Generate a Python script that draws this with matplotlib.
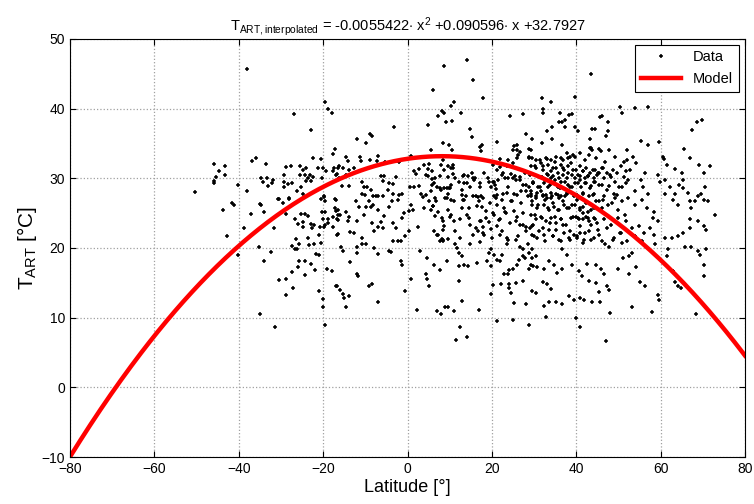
import numpy as np
import matplotlib
matplotlib.use('Agg')
import matplotlib.pyplot as plt

plt.rcParams['font.family'] = ['Liberation Sans', 'DejaVu Sans']
plt.rcParams['mathtext.fontset'] = 'custom'
plt.rcParams['mathtext.rm'] = 'Liberation Sans'
plt.rcParams['mathtext.it'] = 'Liberation Sans'

# model coefficients (from the title)
coef = [-0.0055422, 0.090596, 32.7927]

lat = [
    # south, upper part
    -38.1, -19.6, -18.8, -18.0, -27.0, -22.9, -45.9, -36.8, -36.0, -33.6, -44.8, -43.3, -45.4, -43.3,
    -45.9, -45.8, -40.2, -50.4, -38.0, -34.8, -33.4, -34.3, -33.1, -31.9, -32.1, -30.5, -29.3, -28.8,
    -27.6, -29.3, -29.2, -28.3, -27.4, -26.3, -25.2, -25.4, -24.8, -24.0, -25.4, -24.3, -23.6, -23.2,
    -22.4, -22.8, -24.0, -22.4, -20.6, -21.2, -20.0, -19.3, -17.7, -17.7, -16.5, -16.8, -20.3, -19.7,
    -24.8, -28.0,
    # south, lower part
    -43.7, -41.6, -41.1, -42.9, -37.0, -38.8, -35.0, -34.7, -34.1, -35.3, -40.2, -34.1, -32.3, -31.6,
    -30.6, -29.6, -28.0, -28.7, -30.4, -28.8, -28.8, -27.2, -27.4, -26.0, -25.8, -24.3, -24.4, -23.0,
    -21.9, -27.4, -26.8, -26.2, -25.7, -26.4, -26.0, -24.9, -24.9, -25.3, -24.4, -23.6, -26.7, -23.6,
    -23.4, -22.2, -22.9, -22.1, -22.7, -20.6, -19.8, -19.5, -17.3, -20.2, -19.6, -20.1, -18.8, -18.8,
    -17.7, -17.1, -16.9, -16.4, -16.4, -20.7, -19.8, -19.5, -17.6, -20.9, -16.7, -20.6, -21.8, -20.9,
    -19.1, -17.9, -16.7, -20.9, -20.1, -20.0, -35.0, -31.4, -19.6,
    # tropics, upper part
    8.7, 14.2, 15.5, 6.0, 17.9, 11.1, 10.4, 12.6, 8.1, 8.6, 7.3, 9.2, 10.5, 4.9, -3.3, 14.9, 15.3, 8.3,
    9.8, 5.5, 10.5, 17.1, 17.4, -11.9, -9.9, -8.9, -8.5, -17.2, -14.7, -14.0, -11.2, -11.0, -8.9, -7.1,
    -7.3, -5.4, -2.1, 0.9, 21.1, 24.3, 27.4, 28.0, 25.3, 25.0, 25.9, 26.6, 28.8, 22.0, 23.8, 26.0, 28.8,
    -17.4, -16.2, -15.4, -17.0, -16.2, -14.6, -13.8, -12.8, -15.5, -13.8, -10.7, -10.4, -9.5, -10.9,
    -10.0, -8.7, -8.2, -7.1, -6.3, -5.5, -5.8, -4.5, -3.5, -4.6, -3.5, -2.7, -2.0, -1.2, 1.6, 2.8, 2.0,
    0.6, 1.6, 2.8, 3.8, 5.1, 4.9, 5.7, 4.4, 4.9, 5.9, 6.3, 3.3, 4.4, 5.5, 7.9, 9.5, 10.7, 8.7, 7.8, 9.5,
    10.7, 11.2, 7.0, 7.9, 8.7, 9.9, 10.3, 9.5, 12.2, 13.4, 14.4, 13.4, 12.8, 13.8, 14.8, 15.5, 15.8,
    16.2, 17.2, 17.5, 18.2, 19.0, 19.4, 19.8, 20.6, 21.0, 20.6, 20.2, 21.1, 21.9, 22.6, 23.0, 23.8,
    22.6, 24.6, 25.1, 25.7, 26.7, 27.3, 26.9, 28.1, 28.9, 29.2, 29.7, 25.3, 28.5,
    # tropics, lower part
    -17.0, -16.4, -16.7, -15.9, -16.4, -14.6, -13.8, -14.2, -13.6, -12.6, -12.2, -11.6, -11.9, -10.9,
    -10.3, -9.9, -9.1, -8.7, -8.1, -7.5, -7.0, -8.5, -7.9, -7.0, -5.7, -6.3, -5.5, -5.7, -4.3, -3.6,
    -2.2, -3.4, -2.7, -1.2, -0.8, 0.4, 0.9, 1.4, -0.6, 0.4, 2.4, -3.4, -2.2, -1.6, 3.6, 4.0, 5.0, 5.5,
    6.0, 6.5, 6.7, 6.2, 7.3, 8.1, 7.8, 9.3, 10.3, 11.1, 9.5, 10.3, 10.9, 8.3, 8.7, 9.5, 12.5, 13.3,
    13.0, 14.6, 14.6, 12.5, 14.8, 16.6, 16.9, 17.7, 16.2, 16.8, 17.4, 17.8, 18.6, 18.2, 19.2, 19.9,
    20.6, 21.0, 21.3, 21.7, 21.3, 22.9, 23.3, 22.5, 23.7, 24.5, 25.3, 25.7, 26.7, 27.3, 28.1, 29.1,
    29.6, 23.7, 25.7, 26.7, 27.3, 28.5, 29.6, 27.3, 27.8, 29.6,
    -15.7, -15.2, -12.0, -10.9, -9.9, -11.9, -7.9, -7.1, -4.3, -3.9, -13.6, -1.6, -1.2, 3.0, 4.6, 6.3,
    7.8, 9.3, 11.2, 11.7, 12.3, 13.0, 12.2, 13.4, 14.4, 16.5, 18.9, 19.4, 19.8, 19.8, 20.6, 21.3, 22.0,
    22.5, 22.9, 24.1, 23.9, 25.1, 26.0, 26.5, 28.9, 29.7, -12.0, -11.7, -9.1, -8.5, -17.0, -15.9,
    -15.2, -13.8, -15.1, -14.6, -7.0, -0.6, 0.8, 2.2, 4.3, 4.7, 5.0, 6.9, 7.9, 8.8, 9.5, 10.9, 12.8,
    12.2, 17.0, 19.8, 20.2, 22.1, 24.1, 24.1, 25.7, 24.5, 25.3, 28.1, 27.3, 21.3, 25.0, 12.5, 11.6, 14.0,
    # north, upper part
    43.4, 31.9, 33.9, 32.1, 32.2, 39.6, 36.2, 38.4, 39.0, 37.4, 36.6, 35.9, 37.3, 34.3, 33.1, 39.6,
    40.4, 46.0, 45.7, 43.7, 44.5, 47.6, 47.6, 47.1, 50.4, 50.8, 54.0, 56.9, 55.4, 59.6, 67.4, 68.7,
    69.9, 29.6, 29.3, 31.9, 34.3, 36.6, 43.3, 43.3, 43.7, 45.4, 49.2, 52.1, 52.0, 53.5, 54.2, 57.0,
    60.5, 60.8, 65.6, 67.0, 69.2, 71.8, 61.5, 63.5, 65.0, 65.4, 64.3, 65.4, 70.2, 70.5, 68.8, 59.4,
    59.8, 61.0, 62.2, 61.0, 63.3, 66.5, 52.7, 56.2, 55.4, 55.8, 53.9, 57.0, 50.5, 49.7, 51.3, 51.7,
    50.2, 49.0, 47.4, 48.2, 46.6, 45.5, 47.8, 46.6,
    28.8, 30.4, 31.6, 32.8, 33.9, 35.1, 36.3, 37.8, 38.6, 39.8, 29.3, 30.4, 32.0, 33.2, 34.0, 35.2,
    36.4, 37.2, 38.0, 38.8, 39.9, 40.8, 41.6, 42.4, 43.2, 44.4, 45.5, 46.3, 29.1, 31.9, 33.1, 33.9,
    34.6, 35.8, 36.9, 37.8, 38.9, 39.8, 40.9, 42.1, 42.9, 44.1, 44.9, 29.7, 30.9, 32.4, 33.2, 34.4,
    35.6, 36.4, 38.0, 39.1, 40.3, 41.1, 42.3, 43.5, 44.3, 29.3, 30.5, 31.7, 32.8, 34.0, 35.2, 36.3,
    37.9, 39.5, 41.5, 43.0, 44.2,
    # north, lower part
    29.2, 30.4, 32.0, 33.1, 34.3, 35.8, 37.4, 29.6, 30.8, 32.3, 33.5, 34.7, 35.8, 37.0, 38.2, 39.8,
    41.0, 41.7, 42.9, 44.1, 45.3, 46.4, 47.6, 49.2, 50.8, 52.3, 53.9, 55.5, 56.7, 58.5, 58.1, 59.3,
    29.2, 30.4, 31.6, 32.8, 34.0, 35.1, 36.3, 37.5, 38.7, 39.9, 40.7, 41.5, 42.3, 43.1, 44.3, 45.0,
    46.6, 48.2, 49.8, 51.7, 53.3, 54.9, 56.1, 57.6, 58.4, 29.6, 31.2, 30.0, 32.4, 33.6, 34.4, 35.9,
    37.1, 38.3, 39.5, 40.2, 41.0, 41.8, 43.0, 44.2, 45.4, 46.9, 47.7, 48.9, 50.5, 52.0, 54.0, 55.6,
    58.6, 61.0, 62.6, 64.2, 65.4, 66.9, 66.9, 67.3, 68.1, 70.4, 71.2, 69.6, 63.0, 64.2, 66.9, 68.9,
    70.4, 70.8, 72.8, 65.8, 67.3, 68.9, 69.3, 70.8, 70.4, 70.4,
    28.8, 29.2, 30.4, 30.8, 32.4, 33.6, 34.7, 35.5, 36.7, 36.7, 37.9, 39.1, 40.6, 41.4, 42.6, 44.6,
    45.8, 46.6, 43.0, 44.6, 47.4, 47.7, 45.4, 49.8, 51.0, 52.5, 53.3, 52.5, 54.1, 55.2, 56.4, 61.8,
    61.4, 63.0, 63.3, 64.2, 64.9, 29.6, 30.4, 32.0, 33.1, 34.0, 32.4, 33.5, 35.1, 36.7, 38.2, 39.4,
    41.0, 41.8, 43.8, 45.7, 48.0, 53.3, 58.0, 59.4, 59.6, 68.5, 32.8, 40.0, 41.0, 47.0, 28.8,
    # dense cluster, mid-latitudes north
    43.5, 45.8, 47.8, 31.4, 33.0, 34.9, 36.9, 38.1, 39.3, 40.9, 42.1, 43.1, 44.8, 46.8, 51.4, 51.9,
    48.8, 48.0, 46.0, 45.2, 44.0, 42.8, 41.6, 40.5, 39.3, 38.1, 36.9, 35.7, 34.5, 33.3, 32.2, 30.2,
    29.4, 29.8, 31.4, 32.6, 33.7, 34.9, 36.1, 37.3, 38.5, 39.7, 40.9, 42.1, 43.2, 44.4, 46.0, 47.2,
    49.2, 50.8, 52.3, 30.6, 32.2, 34.1, 35.7, 37.7, 40.1, 41.6, 44.0, 49.6, 29.4, 31.0, 32.6, 33.3,
    34.5, 35.7, 36.9, 37.7, 38.9, 40.1, 40.9, 41.6, 42.4, 43.6, 44.8, 46.0, 48.4, 50.0, 51.5, 30.2,
    31.8, 34.9, 36.5, 39.3, 40.5, 42.8, 44.4, 29.8, 32.2, 33.7, 35.3, 36.9, 38.5, 40.9, 42.1, 43.6,
    45.2, 47.2, 50.4, 30.6, 32.6, 34.5, 36.5, 38.5, 40.1, 41.6, 43.6, 46.0, 48.8, 50.8,
    # dense cluster, tropics
    8.5, 10.8, 10.4, 5.7, 6.5, 7.7, 9.3, 10.0, 8.9, 6.5, 6.1, 7.3, 8.1, 10.0, 8.5, 6.9, 8.5, 11.2,
    13.2, 15.2, 16.0, 17.2, 14.0, 20.3, 20.7, 21.5, 22.3, 23.9, 25.5, 26.6, 27.8, 23.5, 25.1, 26.2,
    17.6, 25.9, 12.8, 13.2, 15.6, 16.4, 18.0, 19.5, 21.1, 22.3, 23.5, 24.7, 25.9, 27.0, 28.2, 14.0,
    14.8, 17.2, 18.7, 20.3, 21.9, 23.1, 24.3, 25.9, 27.4, 15.6, 18.0, 20.0, 21.9, 23.9, 26.2, 28.2,
    8.5, 17.2,
]

temp = [
    # south, upper part
    45.6, 40.9, 40.0, 39.4, 39.2, 36.9, 32.0, 32.5, 32.9, 32.0, 31.1, 31.7, 30.2, 30.4,
    29.6, 29.3, 29.0, 28.0, 28.2, 30.1, 30.1, 29.5, 28.9, 29.7, 29.3, 27.0, 30.5, 31.6,
    31.7, 29.4, 28.7, 29.2, 29.3, 28.2, 28.7, 31.8, 31.2, 31.4, 30.5, 30.5, 30.0, 30.5,
    30.2, 29.6, 29.6, 32.9, 32.8, 31.4, 31.4, 31.1, 33.5, 31.1, 31.4, 30.6, 30.0, 27.4,
    27.8, 27.0,
    # south, lower part
    25.5, 26.5, 26.2, 21.7, 24.9, 22.8, 26.3, 26.1, 25.1, 20.1, 19.0, 18.2, 19.4, 22.8,
    27.0, 26.5, 27.1, 24.9, 15.4, 15.5, 13.2, 14.2, 16.6, 17.2, 18.2, 18.1, 16.1, 17.7,
    16.8, 20.3, 19.8, 19.9, 20.5, 21.3, 23.5, 23.7, 23.0, 24.9, 24.9, 24.6, 24.1, 21.4,
    20.4, 20.5, 23.4, 23.3, 22.8, 27.0, 27.3, 26.8, 27.0, 25.2, 25.1, 24.2, 24.2, 23.6,
    24.4, 25.8, 25.3, 24.7, 24.0, 23.0, 23.0, 23.3, 23.0, 21.9, 21.9, 20.7, 19.1, 19.0,
    17.0, 16.7, 14.5, 13.8, 12.7, 11.5, 10.6, 8.7, 8.9,
    # tropics, upper part
    46.1, 47.0, 44.1, 42.6, 41.5, 40.9, 40.4, 39.3, 39.6, 39.4, 38.9, 38.1, 38.2, 37.6, 37.4, 37.1, 35.9, 35.1,
    34.8, 34.0, 34.0, 34.5, 33.9, 35.6, 35.1, 36.3, 36.0, 34.2, 33.1, 32.5, 33.1, 32.5, 32.6, 33.2,
    32.5, 32.4, 32.3, 33.2, 35.2, 38.9, 39.2, 36.3, 34.6, 34.1, 34.1, 33.8, 34.2, 32.8, 32.6, 32.9, 32.9,
    31.4, 31.7, 31.4, 30.5, 30.1, 30.5, 31.2, 31.4, 28.9, 28.9, 29.5, 28.8, 28.8, 27.8,
    27.6, 28.3, 27.5, 27.4, 30.3, 30.3, 29.6, 29.3, 29.2, 28.3, 27.8, 30.2, 27.6, 27.7, 31.1, 31.3, 30.6,
    28.8, 28.8, 28.9, 31.9, 32.0, 31.3, 31.1, 30.5, 30.3, 29.9, 29.3, 27.7, 27.6, 28.2, 31.9, 31.7, 31.4, 31.2, 30.3, 30.2,
    30.6, 30.1, 28.8, 28.3, 28.6, 28.6, 29.0, 27.8, 29.4, 30.5, 30.3, 29.3, 28.3, 27.4, 28.8, 30.1, 29.7,
    27.4, 28.8, 27.5, 30.7, 30.1, 29.5, 28.8, 29.4, 28.4, 27.4, 31.9, 31.2, 31.6, 30.8, 30.0, 28.8,
    27.8, 30.6, 30.1, 29.8, 30.2, 29.0, 28.1, 29.0, 28.8, 28.1, 29.3, 27.8, 27.4,
    # tropics, lower part
    26.9, 25.5, 24.1, 24.7, 22.0, 25.2, 24.5, 23.8, 22.3, 22.1, 26.7, 25.9, 23.9, 21.4,
    24.8, 25.9, 26.7, 25.9, 26.1, 27.4, 25.5, 23.6, 22.4, 23.0, 22.8, 23.7, 24.6, 27.4, 25.9, 26.7,
    26.9, 23.6, 22.8, 24.3, 25.0, 25.3, 26.2, 25.5, 21.7, 22.5, 23.0, 21.0, 21.0, 21.0, 27.3, 25.7, 26.7, 25.4,
    26.0, 24.6, 26.8, 22.4, 21.8, 21.3, 21.0, 27.2, 26.9, 26.7, 25.5, 24.8, 23.9, 23.8, 23.1, 21.3, 24.2, 26.9,
    25.7, 24.3, 25.7, 21.5, 20.6, 27.3, 26.7, 25.9, 22.9, 22.5, 23.9, 23.0, 25.3, 21.9, 23.7, 22.7,
    24.7, 27.2, 26.2, 24.0, 23.2, 25.7, 25.0, 22.4, 21.5, 26.7, 25.3, 23.8, 23.3, 25.0, 23.0, 22.9,
    21.9, 20.5, 21.2, 20.1, 19.8, 20.5, 19.8, 18.8, 18.6, 18.6,
    20.2, 19.5, 20.1, 20.5, 20.6, 19.3, 20.0, 19.1, 19.6, 19.4, 18.0, 18.1, 17.6, 19.5, 18.6, 17.5,
    16.9, 18.2, 20.6, 20.0, 19.3, 18.9, 17.4, 17.5, 17.4, 17.8, 18.1, 19.3, 19.8, 17.4, 19.0, 18.3, 18.1,
    19.0, 16.3, 16.8, 16.3, 17.0, 17.6, 18.3, 17.0, 17.4, 16.3, 16.0, 14.6, 14.8, 14.5, 13.9,
    13.4, 13.1, 12.8, 11.5, 12.2, 13.8, 15.5, 11.1, 16.2, 15.5, 14.5, 10.9, 10.6, 11.6, 11.6, 11.0, 12.4,
    15.3, 11.1, 13.4, 14.7, 14.8, 14.8, 14.3, 15.0, 13.5, 12.1, 11.9, 15.3, 9.5, 9.6, 8.6, 6.8, 7.2,
    # north, upper part
    45.0, 41.5, 41.0, 40.0, 39.4, 41.6, 39.4, 39.1, 39.2, 38.4, 38.1, 38.0, 37.3, 37.4, 36.8, 37.3,
    36.8, 38.9, 38.8, 37.1, 37.1, 38.0, 36.8, 36.1, 40.2, 39.4, 40.1, 40.2, 35.4, 35.2, 36.9, 38.0,
    38.4, 35.6, 34.1, 35.0, 35.6, 34.8, 35.6, 34.3, 34.1, 34.2, 33.1, 34.1, 32.6, 33.1, 32.2, 34.8,
    33.1, 32.7, 34.2, 32.9, 31.9, 31.8, 31.9, 31.3, 30.8, 29.8, 29.0, 28.6, 30.7, 28.7, 27.5, 30.5,
    29.5, 29.7, 28.8, 27.8, 27.8, 27.9, 31.2, 30.8, 29.8, 28.8, 28.1, 27.7, 31.7, 30.7, 30.2, 29.3,
    28.8, 27.8, 30.7, 30.2, 30.0, 29.0, 28.9, 27.4,
    33.1, 32.6, 32.2, 32.9, 32.6, 33.1, 32.9, 33.6, 33.0, 33.1, 31.7, 31.4, 31.7, 31.9, 31.0, 31.4,
    31.9, 31.2, 31.7, 32.2, 31.2, 31.7, 31.0, 31.4, 30.8, 31.2, 30.7, 31.4, 30.5, 30.2, 30.6, 30.0,
    30.3, 30.0, 30.5, 30.0, 30.5, 30.0, 30.3, 30.0, 30.3, 30.0, 30.5, 29.3, 28.8, 29.3, 28.8, 29.3,
    28.8, 29.4, 29.0, 28.8, 29.3, 28.8, 29.3, 28.9, 29.4, 27.8, 27.4, 28.1, 27.6, 27.1, 27.8, 27.4,
    27.8, 27.4, 27.7, 27.4, 27.8,
    # north, lower part
    27.4, 27.1, 27.4, 27.1, 27.4, 27.1, 27.4, 26.2, 25.7, 26.2, 25.5, 25.9, 25.5, 26.2, 25.7, 26.2,
    25.5, 25.9, 25.2, 25.7, 26.7, 26.9, 26.2, 27.1, 26.7, 27.1, 26.2, 26.9, 25.7, 25.2, 24.3, 23.8,
    24.8, 24.1, 24.5, 23.8, 24.3, 23.6, 24.1, 23.3, 24.3, 24.5, 24.1, 24.2, 24.5, 23.8, 24.3, 23.6,
    24.1, 23.3, 24.3, 23.8, 22.9, 23.1, 22.2, 22.9, 21.9, 23.1, 22.4, 21.7, 21.9, 22.6, 21.7, 21.2,
    22.2, 21.4, 21.9, 21.4, 22.2, 21.2, 22.4, 21.4, 21.9, 20.5, 20.2, 21.4, 22.2, 21.0, 21.7, 21.0,
    20.5, 21.4, 21.4, 21.7, 22.2, 22.9, 24.1, 25.7, 26.7, 26.9, 26.7, 27.7, 26.9, 26.2, 26.7, 23.9,
    23.1, 22.6, 24.7, 20.2, 20.2, 19.5, 19.0, 19.8, 17.6, 16.0,
    19.3, 17.6, 18.8, 17.2, 17.0, 18.1, 17.6, 16.4, 17.0, 19.8, 19.0, 17.6, 16.7, 16.0, 17.7, 17.6,
    17.0, 16.3, 15.3, 15.0, 14.5, 14.0, 13.7, 17.0, 18.6, 18.8, 19.3, 16.3, 17.2, 15.1, 14.5, 19.8,
    18.8, 16.7, 15.1, 14.5, 14.3, 13.8, 13.6, 15.1, 14.8, 14.1, 11.7, 12.2, 12.2, 11.9, 13.1, 12.6,
    12.8, 12.5, 12.2, 12.3, 10.7, 11.6, 10.8, 13.2, 12.6, 10.6, 10.1, 10.0, 8.7, 6.7, 9.0,
    # dense cluster, mid-latitudes north
    34.4, 33.9, 34.1, 32.6, 32.8, 32.4, 32.6, 32.9, 33.4, 33.6, 32.6, 33.4, 32.9, 32.4, 32.4, 31.0,
    31.2, 30.5, 31.5, 30.7, 31.2, 30.3, 31.0, 30.5, 31.2, 30.7, 31.5, 30.7, 31.5, 30.5, 31.2, 31.7,
    32.9, 29.5, 28.8, 29.8, 29.1, 29.8, 28.6, 29.5, 28.8, 29.3, 29.8, 29.3, 28.6, 29.5, 29.1, 28.3,
    29.5, 28.8, 29.8, 27.9, 27.6, 27.9, 27.6, 27.9, 27.6, 27.9, 27.6, 27.6, 26.7, 26.2, 26.9, 25.7,
    26.4, 25.5, 26.7, 25.7, 26.2, 26.9, 25.7, 25.0, 26.4, 25.5, 26.7, 25.7, 26.4, 25.5, 24.8, 24.8,
    24.3, 24.5, 24.1, 24.5, 24.3, 24.3, 24.1, 23.3, 22.8, 23.6, 22.6, 23.3, 22.4, 23.1, 22.1, 23.3,
    22.6, 22.8, 22.1, 21.4, 21.0, 21.7, 21.0, 21.2, 21.7, 20.7, 21.2, 21.0, 21.2, 20.7,
    # dense cluster, tropics
    32.6, 31.9, 31.5, 29.1, 30.0, 28.6, 28.6, 28.6, 27.1, 27.1, 26.0, 25.2, 24.3, 24.5, 22.6, 21.9, 21.2, 22.4,
    30.3, 30.7, 30.0, 29.3, 29.3, 29.5, 29.1, 29.8, 30.5, 30.0, 30.3, 29.8, 30.7, 31.7, 32.2, 33.4,
    34.8, 34.8, 27.6, 26.9, 27.4, 26.0, 27.1, 26.4, 27.6, 26.9, 27.9, 26.7, 27.6, 26.4, 28.1, 24.8,
    23.3, 23.8, 24.3, 25.0, 24.1, 25.2, 23.6, 24.5, 23.3, 21.9, 22.1, 21.4, 21.9, 21.2, 21.7, 22.4,
    21.0, 20.9,
]

fig = plt.figure(figsize=(7.54, 5.04), dpi=100)
ax = fig.add_axes([0.093, 0.093, 0.895, 0.830])

xm = np.linspace(-80, 80, 400)
ym = np.polyval(coef, xm)

ax.plot(lat, temp, '+', color='black', ms=3.2, mew=1.1, label='Data')
ax.plot(xm, ym, '-', color='red', lw=3.2, label='Model')

ax.set_xlim(-80, 80)
ax.set_ylim(-10, 50)
ax.set_xticks(np.arange(-80, 81, 20))
ax.set_yticks(np.arange(-10, 51, 10))
ax.tick_params(direction='in', top=True, right=True, labelsize=10, length=4)
ax.grid(True, linestyle=':', color='#a0a0a0', lw=0.9)
for s in ax.spines.values():
    s.set_linewidth(0.8)

ax.set_title(r'$\mathregular{T_{ART,interpolated}}$ = -0.0055422$\cdot$ x$^\mathregular{2}$ +0.090596$\cdot$ x +32.7927',
             fontsize=10.5, pad=6)
ax.set_xlabel('Latitude [°]', fontsize=13, labelpad=2)
ax.set_ylabel(r'$\mathregular{T_{ART}}$ [°C]', fontsize=15, labelpad=2)

leg = ax.legend(loc='upper right', fancybox=False, framealpha=1, edgecolor='black',
                fontsize=10.5, handlelength=2.8, borderaxespad=0.4, markerscale=0.7)
leg.get_frame().set_linewidth(0.8)

fig.savefig('out.png', dpi=100)
